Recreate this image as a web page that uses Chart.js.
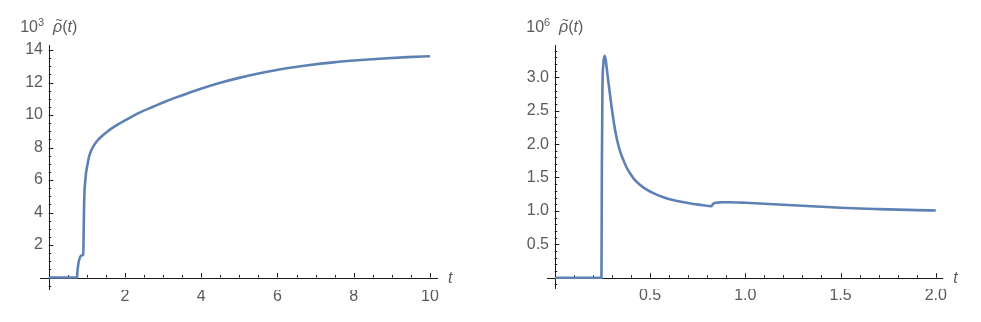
<!DOCTYPE html>
<html><head><meta charset="utf-8">
<script src="https://cdn.jsdelivr.net/npm/chart.js@4.4.1/dist/chart.umd.min.js"></script>
<style>
html,body{margin:0;padding:0;background:#fff;width:981px;height:322px;overflow:hidden}
#l{position:absolute;left:0;top:0}
#r{position:absolute;left:490px;top:0}
</style></head><body>
<canvas id="l" width="490" height="322"></canvas>
<canvas id="r" width="491" height="322"></canvas>
<script>
// ---- data ----
const leftT   = [0, 0.74, 0.75, 0.78, 0.82, 0.87, 0.905, 0.915, 0.925, 0.94, 0.96, 0.98, 1.02, 1.06, 1.12, 1.17, 1.25, 1.39, 1.55, 1.74, 2.0, 2.18, 2.45, 2.75, 3.05, 3.36, 3.65, 3.97, 4.5, 5.02, 5.6, 6.16, 6.8, 7.47, 8.1, 8.78, 9.4, 10];
const leftRho = [0, 0, 0.3, 0.9, 1.25, 1.37, 1.4, 2.6, 4.2, 5.4, 6.0, 6.45, 7.0, 7.46, 7.85, 8.07, 8.35, 8.69, 9.0, 9.31, 9.67, 9.9, 10.22, 10.52, 10.82, 11.1, 11.34, 11.6, 11.98, 12.3, 12.6, 12.85, 13.06, 13.24, 13.37, 13.48, 13.56, 13.62];
const rightT   = [0, 0.245, 0.247, 0.250, 0.255, 0.262, 0.268, 0.275, 0.281, 0.29, 0.298, 0.307, 0.316, 0.328, 0.342, 0.36, 0.377, 0.4, 0.421, 0.45, 0.483, 0.52, 0.57, 0.62, 0.67, 0.72, 0.77, 0.822, 0.828, 0.835, 0.85, 0.88, 0.91, 1.0, 1.1, 1.2, 1.3, 1.4, 1.5, 1.6, 1.7, 1.8, 1.9, 2.0];
const rightRho = [0, 0, 1.6, 2.8, 3.2, 3.32, 3.25, 3.08, 2.94, 2.74, 2.56, 2.38, 2.22, 2.05, 1.9, 1.76, 1.65, 1.54, 1.46, 1.385, 1.318, 1.262, 1.205, 1.163, 1.132, 1.108, 1.089, 1.07, 1.095, 1.112, 1.124, 1.13, 1.13, 1.122, 1.108, 1.093, 1.077, 1.062, 1.048, 1.036, 1.027, 1.019, 1.012, 1.006];
const leftXTicks  = [2, 4, 6, 8, 10];
const leftYTicks  = [2, 4, 6, 8, 10, 12, 14];
const rightXTicks = [0.5, 1.0, 1.5, 2.0];
const rightYTicks = [0.5, 1.0, 1.5, 2.0, 2.5, 3.0];
const leftMinor  = {x: 0.5, y: 0.5};
const rightMinor = {x: 0.1, y: 0.1};
const leftExp = '3', rightExp = '6';
const xAxisName = 't';

const FONT = '"Liberation Sans", Arial, Helvetica, sans-serif';
const TXT = '#5a5a5a';
const AX = '#1a1a1a';
const LINE = '#5E81B5';

const mathAxes = {
  id: 'mathAxes',
  beforeDatasetsDraw(chart, args, o) {
    const {ctx, chartArea: a, scales: {x, y}} = chart;
    const x0 = x.getPixelForValue(0), y0 = y.getPixelForValue(0);
    const xStart = x.getPixelForValue(o.axisFrom);
    ctx.save();
    ctx.strokeStyle = AX; ctx.lineWidth = 1;
    ctx.beginPath();
    ctx.moveTo(xStart, Math.round(y0) + 0.5); ctx.lineTo(a.right, Math.round(y0) + 0.5);
    ctx.moveTo(Math.round(x0) + 0.5, a.top); ctx.lineTo(Math.round(x0) + 0.5, a.bottom);
    ctx.stroke();
    ctx.beginPath();
    const isMajor = (v, arr) => arr.some(m => Math.abs(m - v) < 1e-9);
    for (let k = Math.ceil(x.min / o.minor.x); k * o.minor.x <= x.max + 1e-9; k++) {
      const v = +(k * o.minor.x).toFixed(6);
      if (Math.abs(v) < 1e-9) continue;
      const len = isMajor(v, o.xTicks) ? 4.5 : 2.5;
      const px = Math.round(x.getPixelForValue(v)) + 0.5;
      ctx.moveTo(px, y0); ctx.lineTo(px, y0 - len);
    }
    for (let k = Math.ceil(y.min / o.minor.y); k * o.minor.y <= y.max + 1e-9; k++) {
      const v = +(k * o.minor.y).toFixed(6);
      if (Math.abs(v) < 1e-9) continue;
      const len = isMajor(v, o.yTicks) ? 4.5 : 2.5;
      const py = Math.round(y.getPixelForValue(v)) + 0.5;
      ctx.moveTo(x0, py); ctx.lineTo(x0 + len, py);
    }
    ctx.stroke();
    ctx.restore();
  },
  afterDraw(chart, args, o) {
    const {ctx, chartArea: a, scales: {x, y}} = chart;
    const x0 = x.getPixelForValue(0), y0 = y.getPixelForValue(0);
    ctx.save();
    ctx.fillStyle = TXT;
    ctx.textBaseline = 'alphabetic';
    const parts = [
      {s: '10', f: '16px ' + FONT, dy: 0},
      {s: o.exp, f: '11px ' + FONT, dy: -6.5},
      {s: '  ', f: '16px ' + FONT, dy: 0},
      {s: 'ρ', f: 'italic 16px ' + FONT, dy: 0, tilde: true},
      {s: '(', f: '16px ' + FONT, dy: 0},
      {s: 't', f: 'italic 16px ' + FONT, dy: 0},
      {s: ')', f: '16px ' + FONT, dy: 0}
    ];
    let w = 0;
    parts.forEach(p => { ctx.font = p.f; p.w = ctx.measureText(p.s).width; w += p.w; });
    let cx = x0 - w / 2;
    const base = 32;
    parts.forEach(p => {
      ctx.font = p.f;
      ctx.fillText(p.s, cx, base + p.dy);
      if (p.tilde) {
        ctx.font = '12px ' + FONT;
        const tw = ctx.measureText('~').width;
        ctx.textBaseline = 'middle';
        ctx.fillText('~', cx + p.w / 2 - tw / 2 + 1.5, 21);
        ctx.textBaseline = 'alphabetic';
      }
      cx += p.w;
    });
    ctx.font = 'italic 16px ' + FONT;
    ctx.textBaseline = 'middle';
    ctx.fillText(xAxisName, a.right + 10, y0 + 1);
    ctx.restore();
  }
};

function makeChart(id, c) {
  return new Chart(document.getElementById(id), {
    type: 'line',
    data: {datasets: [{
      data: c.t.map((tv, i) => ({x: tv, y: c.v[i]})),
      borderColor: LINE, borderWidth: 2.6, pointRadius: 0,
      cubicInterpolationMode: 'monotone', fill: false
    }]},
    options: {
      responsive: false, animation: false, devicePixelRatio: 1,
      layout: {padding: {left: 0, top: 45, right: c.padR, bottom: 0}},
      plugins: {legend: {display: false}, tooltip: {enabled: false},
        mathAxes: {minor: c.minor, xTicks: c.xTicks, yTicks: c.yTicks, exp: c.exp, axisFrom: c.axisFrom}},
      scales: {
        x: {type: 'linear', position: 'bottom', min: c.xr[0], max: c.xr[1],
          grid: {display: false, drawTicks: false}, border: {display: false},
          ticks: {autoSkip: false, maxRotation: 0, padding: -3, color: TXT,
            font: {family: FONT, size: 16}, callback: v => c.fmt(v)},
          afterBuildTicks: s => { s.ticks = c.xTicks.map(v => ({value: v})); },
          afterFit: s => { s.height = c.xH; s.paddingLeft = 0; s.paddingRight = 0; }},
        y: {type: 'linear', position: 'left', min: c.yr[0], max: c.yr[1],
          grid: {display: false, drawTicks: false}, border: {display: false},
          ticks: {autoSkip: false, padding: 0, color: TXT,
            font: {family: FONT, size: 16}, callback: v => c.fmt(v)},
          afterBuildTicks: s => { s.ticks = c.yTicks.map(v => ({value: v})); },
          afterFit: s => { s.width = c.yW; s.paddingTop = 0; s.paddingBottom = 0; }}
      }
    },
    plugins: [mathAxes]
  });
}

makeChart('l', {t: leftT, v: leftRho, xr: [-0.1508, 10.21], yr: [-0.769, 14.308], axisFrom: -0.2295,
  xTicks: leftXTicks, yTicks: leftYTicks, minor: leftMinor, exp: leftExp,
  fmt: v => String(Math.round(v)), padR: 52, xH: 32, yW: 43});
makeChart('r', {t: rightT, v: rightRho, xr: [-0.0304, 2.0394], yr: [-0.1692, 3.4835], axisFrom: -0.0409,
  xTicks: rightXTicks, yTicks: rightYTicks, minor: rightMinor, exp: rightExp,
  fmt: v => v.toFixed(1), padR: 37.7, xH: 33, yW: 59});
</script>
</body></html>
